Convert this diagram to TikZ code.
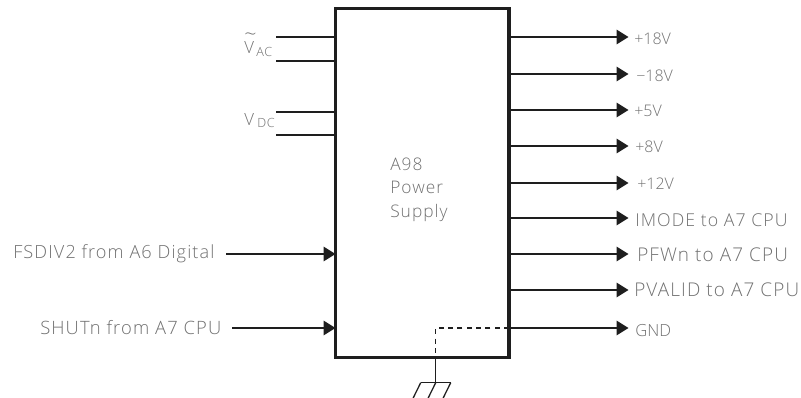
\documentclass[tikz,border=0pt]{standalone}
\usepackage{fontspec}
\setmainfont{Open Sans Light}[LetterSpace=6]
\newfontfamily\tightfont{Open Sans Light}
\usetikzlibrary{arrows.meta,calc}
\definecolor{ink}{HTML}{1E1E1E}
\definecolor{txt}{HTML}{707070}
\newcommand{\fsz}[1]{\fontsize{#1pt}{#1pt}\selectfont}
\tikzset{
  x=0.75pt,y=-0.75pt,
  wire/.style={draw=ink,line width=0.95pt},
  sig/.style={wire,-{Triangle[length=9pt,width=11pt,fill=ink]}},
  block/.style={draw=ink,line width=2.5pt,outer sep=0pt,minimum width=130.1pt,minimum height=261.75pt,inner sep=0pt,anchor=north west},
  lab/.style={text=txt,inner sep=0pt,anchor=base west},
}
\begin{document}
\begin{tikzpicture}
\useasboundingbox (0,0) rectangle (801,398);
\node[block] (box) at (335.5,8.5) {};
% left stubs
\foreach \n/\y in {a/37,b/61,c/112,d/135}{
  \coordinate (s\n) at (276,\y);
  \draw[wire] (s\n) -- (s\n -| box.west);
}
% outputs
\foreach \n/\y/\t/\lx/\b/\s in {1/37/{\tightfont +18V}/634/45/12,2/74/{\tightfont −18V}/636/82/12,3/110/{\tightfont +5V}/634/117/12,4/146/{\tightfont +8V}/635/153/12,5/183/{\tightfont +12V}/637/190/12,6/218/IMODE to A7 CPU/635/227/13.3,7/254/PFWn to A7 CPU/637/262/14.2,8/290/PVALID to A7 CPU/634/297/14.2,9/328/{\tightfont GND}/635/337/12.5}{
  \coordinate (o\n) at (628.5,\y);
  \draw[sig] (o\n -| box.east) -- (o\n);
  \node[lab,font=\fsz{\s}] (ol\n) at (\lx,\b) {\t};
}
% inputs
\coordinate (i1) at (226,254);
\coordinate (i2) at (232,328);
\draw[sig] (i1) -- (i1 -| box.west);
\draw[sig] (i2) -- (i2 -| box.west);
\node[lab,font=\fsz{13.6}] (il1) at (13,259) {FSDIV2 from A6 Digital};
\node[lab,font=\fsz{13.8}] (il2) at (40,335) {SHUTn from A7 CPU};
% supply labels
\node[lab,font=\fsz{12.6}] (vac) at (244,54) {\rlap{\raisebox{9pt}{\fsz{16}\textasciitilde}}V};
\node[lab,font=\fsz{9.5}] (vacs) at (256,57) {AC};
\node[lab,font=\fsz{12.6}] (vdc) at (244,126) {V};
\node[lab,font=\fsz{9.5}] (vdcs) at (257,128) {DC};
% block title
\node[lab,font=\fsz{13}] (t1) at (390,171) {A98};
\node[lab,font=\fsz{13}] (t2) at (390,194) {Power};
\node[lab,font=\fsz{13}] (t3) at (390,218) {Supply};
% ground
\coordinate (g0) at (435.7,328);
\coordinate (g1) at (435.7,357.5);
\coordinate (g2) at (435.7,382.7);
\draw[wire,dash pattern=on 3.8pt off 3.2pt] (box.east |- g0) -- (g0) -- (g1);
\draw[wire] (g1) -- (g2);
\draw[wire] ($(g2)+(-15,0)$) -- ($(g2)+(15,0)$);
\foreach \dx in {-15,0,15}{
  \draw[wire] ($(g2)+(\dx,0)$) -- ($(g2)+(\dx-7.5,15.3)$);
}
\end{tikzpicture}
\end{document}
